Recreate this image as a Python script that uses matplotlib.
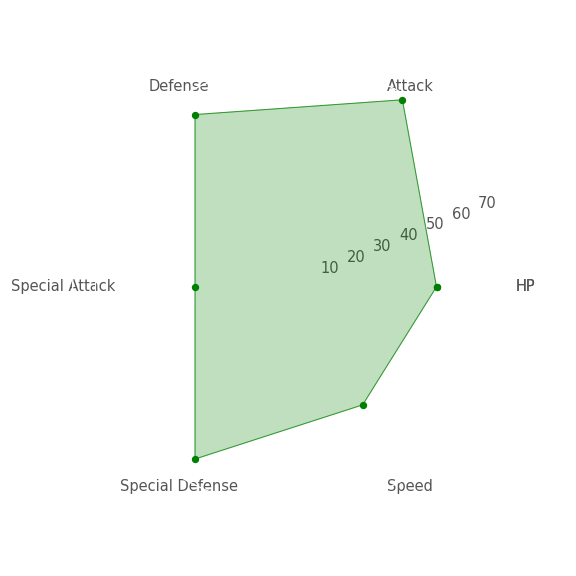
import numpy as np
import matplotlib
matplotlib.use("Agg")
import matplotlib.pyplot as plt

plt.style.use('ggplot')

labels = ['HP', 'Attack', 'Defense', 'Special Attack', 'Special Defense', 'Speed']
stats = [50, 76, 70, 35, 70, 48]

angles = np.linspace(0, 2 * np.pi, len(labels), endpoint=False)
stats_c = np.concatenate((stats, [stats[0]]))
angles_c = np.concatenate((angles, [angles[0]]))
labels_c = labels + [labels[0]]

fig = plt.figure(figsize=(6, 6), dpi=96)
ax = fig.add_axes([0.1262, 0.1171, 0.770, 0.770], polar=True)
ax.set_facecolor('white')
ax.plot(angles_c, stats_c, '-', color='green', linewidth=0.8, alpha=0.7)
ax.plot(angles_c, stats_c, 'o', color='green', markersize=4.5)
ax.fill(angles_c, stats_c, color='green', alpha=0.25)
ax.set_thetagrids(angles_c * 180 / np.pi, labels_c, fontsize=11)
ax.tick_params(axis='x', pad=-3.5)
ax.tick_params(axis='y', labelsize=11)
ax.grid(True)

fig.savefig('out.png', dpi=96)
